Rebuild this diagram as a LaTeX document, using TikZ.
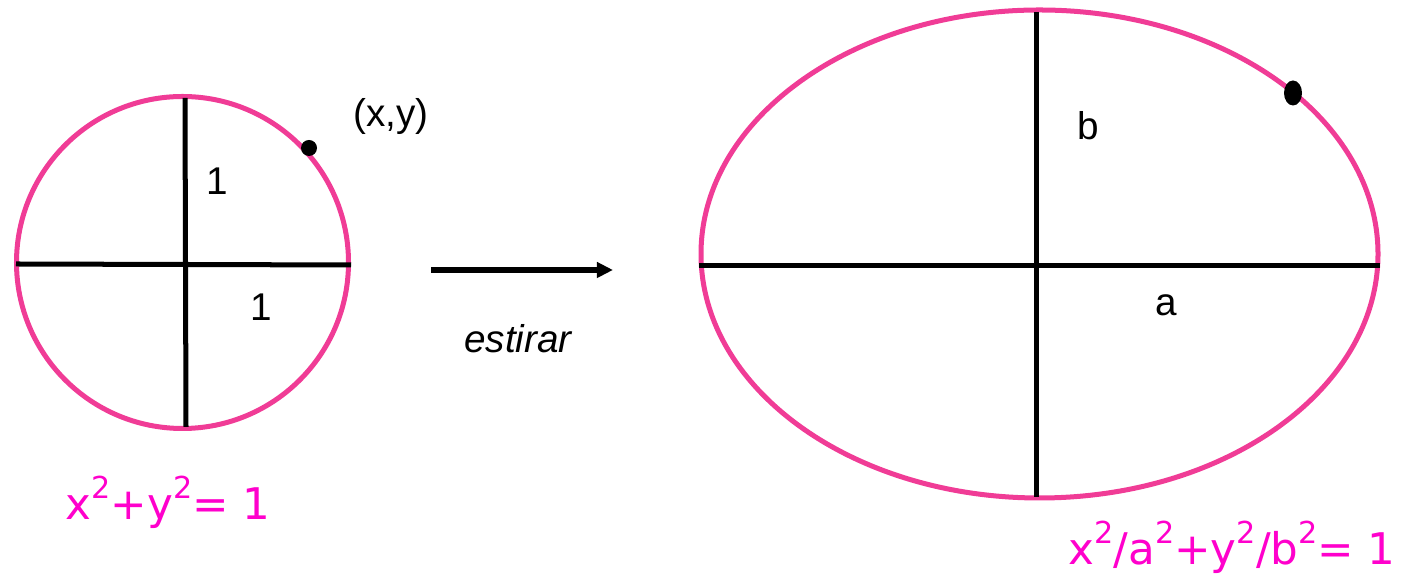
\documentclass[tikz,border=0pt]{standalone}
\usepackage{fontspec}
\setmainfont{Liberation Sans}
\newfontfamily\eqfont{DejaVu Sans}
\usepackage{xcolor}
\usepackage{tikz}
\usetikzlibrary{arrows.meta}

\definecolor{pinkline}{RGB}{240,60,150}
\definecolor{eqpink}{RGB}{255,0,204}
\newcommand\supTwo{\raisebox{6.1pt}{\fontsize{8.6}{9}\selectfont 2}}

\begin{document}
\begin{tikzpicture}[
    x=0.01cm, y=-0.01cm,
    curve/.style={draw=pinkline, line width=0.05cm},
    axis/.style={line width=0.05cm},
    lbl/.style={inner sep=0pt, font=\fontsize{11}{13}\selectfont},
    eqn/.style={inner sep=0pt, anchor=base west, text=eqpink,
      font=\eqfont\fontsize{12.4}{14}\selectfont},
    arrow/.style={-{Triangle[length=0.16cm, width=0.15cm]}, line width=0.055cm}
  ]
    \useasboundingbox (0,0) rectangle (1406,574);

    % unit circle
    \draw[curve] (182.5,262.5) circle[radius=166];
    \coordinate (cW) at (16,264);
    \coordinate (cE) at (351,265);
    \coordinate (cN) at (185,98);
    \coordinate (cS) at (186,427);
    \draw[axis] (cW) -- (cE);
    \draw[axis] (cN) -- (cS);
    \fill (309,148) circle[radius=8];
    \node[lbl] (pt) at (391,117) {(x,y)};
    \node[lbl] (one1) at (217,181) {1};
    \node[lbl] (one2) at (261,307) {1};
    \node[eqn] (eqc) at (65,520) {x\supTwo+y\supTwo= 1};

    % stretch arrow
    \coordinate (from) at (431,270);
    \coordinate (to) at (613,270);
    \draw[arrow] (from) -- (to);
    \node[lbl, anchor=base, font=\itshape\fontsize{11}{13}\selectfont] (str) at (518,353) {estirar};

    % ellipse
    \draw[curve] (1039.5,254) ellipse[x radius=338.5, y radius=244];
    \coordinate (eW) at (699,266);
    \coordinate (eE) at (1380,266);
    \coordinate (eN) at (1036,12);
    \coordinate (eS) at (1036,497);
    \draw[axis] (eW) -- (eE);
    \draw[axis] (eN) -- (eS);
    \fill (1293,93) ellipse[x radius=9, y radius=12.5];
    \node[lbl] (bl) at (1088,126) {b};
    \node[lbl] (al) at (1166,305) {a};
    \node[eqn] (eqe) at (1068,565) {x\supTwo/a\supTwo+y\supTwo/b\supTwo= 1};
\end{tikzpicture}
\end{document}
